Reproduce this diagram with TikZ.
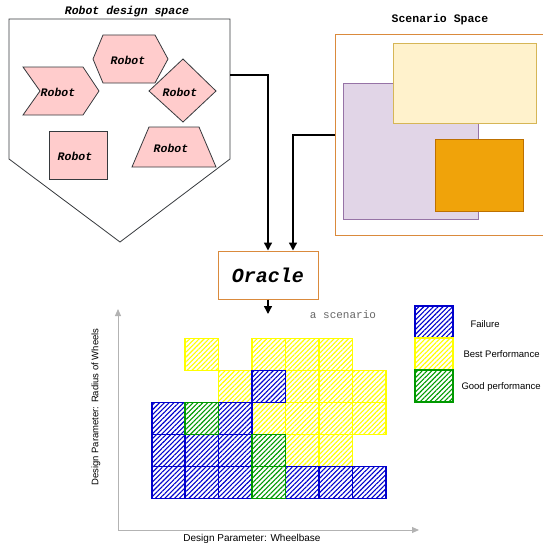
\documentclass[tikz,border=0pt]{standalone}
\usepackage{fontspec}
\setmainfont{Liberation Sans}
\newfontfamily\monofam{Liberation Mono}
\usetikzlibrary{arrows.meta,patterns.meta}

\definecolor{pinkfill}{HTML}{FFCCCC}
\definecolor{darkline}{HTML}{36393D}
\definecolor{orangeline}{HTML}{DA8A3C}
\definecolor{purplefill}{HTML}{E1D5E7}
\definecolor{purpleline}{HTML}{9673A6}
\definecolor{creamfill}{HTML}{FFF2CC}
\definecolor{creamline}{HTML}{D6B656}
\definecolor{amberfill}{HTML}{F0A30A}
\definecolor{amberline}{HTML}{BD7000}
\definecolor{failblue}{HTML}{0000CC}
\definecolor{bestyellow}{HTML}{FFFF00}
\definecolor{goodgreen}{HTML}{009900}
\definecolor{axisgray}{HTML}{B3B3B3}
\definecolor{labelgray}{HTML}{666666}

\tikzset{
  robotshape/.style={fill=pinkfill, draw=darkline, line width=0.8pt},
  robotlabel/.style={font=\monofam\bfseries\itshape\fontsize{11.5}{13}\selectfont},
  titlelabel/.style={font=\monofam\bfseries\fontsize{11.5}{13}\selectfont},
  flow/.style={line width=1.4pt, -{Triangle[length=8pt,width=8pt]}},
  axisline/.style={draw=axisgray, line width=1pt, -{Triangle[length=7pt,width=6pt]}},
  sanslabel/.style={font=\fontsize{9.5}{11}\selectfont},
  cell/.style={line width=1.6pt, pattern={Lines[angle=45,distance=3.4pt,line width=1.1pt]}},
  failcell/.style={cell, draw=failblue, pattern color=failblue},
  bestcell/.style={cell, draw=bestyellow, pattern color=bestyellow},
  goodcell/.style={cell, draw=goodgreen, pattern color=goodgreen},
}

\begin{document}
\begin{tikzpicture}[x=1pt,y=-1pt]
\useasboundingbox (0,0) rectangle (543,543);

% ---- robot design space ----
\draw[darkline, line width=0.8pt, fill=white]
  (9,19) -- (230,19) -- (230,159) -- (120,242) -- (9,159) -- cycle;
\node[font=\monofam\bfseries\itshape\fontsize{11.5}{13}\selectfont] (rdstitle) at (127,12) {Robot design space};
\coordinate (rdsout) at (230,75);

% hexagon
\draw[robotshape] (93,59) -- (103,35) -- (155,35) -- (168,59) -- (155,83) -- (103,83) -- cycle;
\node[robotlabel] (r1) at (128,60) {Robot};
% chevron
\draw[robotshape] (23,67) -- (83,67) -- (99,91) -- (83,115) -- (23,115) -- (40,91) -- cycle;
\node[robotlabel] (r2) at (58,92) {Robot};
% diamond
\draw[robotshape] (183,59) -- (216,91) -- (183,122) -- (149,91) -- cycle;
\node[robotlabel] (r3) at (180,92) {Robot};
% square
\draw[robotshape] (49,131) rectangle (107,179);
\node[robotlabel] (r4) at (75,156) {Robot};
% trapezoid
\draw[robotshape] (149,127) -- (199,127) -- (216,167) -- (132,167) -- cycle;
\node[robotlabel] (r5) at (171,148) {Robot};

% ---- scenario space ----
\draw[orangeline, line width=1pt, fill=white] (335,35) rectangle (547,235);
\node[titlelabel] (sstitle) at (440,20) {Scenario Space};
\coordinate (ssin) at (335,135);
\draw[purpleline, fill=purplefill, line width=0.8pt] (343,83) rectangle (478,219);
\draw[creamline, fill=creamfill, line width=0.8pt] (393,43) rectangle (536,123);
\draw[amberline, fill=amberfill, line width=0.8pt] (435,139) rectangle (523,211);

% ---- oracle ----
\node[draw=orangeline, line width=1pt, minimum width=100pt, minimum height=48pt,
      font=\monofam\bfseries\itshape\fontsize{20}{22}\selectfont] (oracle) at (268,275) {Oracle};
\coordinate (oracleout) at (268,314);
\draw[flow] (rdsout) -| (oracle.north);
\draw[flow] (ssin) -| ([xshift=25pt]oracle.north);
\draw[flow] (oracle.south) -- (oracleout);
\node[font=\monofam\fontsize{11}{13}\selectfont, text=labelgray] (scen) at (343,315) {a scenario};

% ---- axes ----
\coordinate (origin) at (118,530);
\coordinate (ytip) at (118,309);
\coordinate (xtip) at (419,530);
\draw[axisline] (origin) -- (ytip);
\draw[axisline] (origin) -- (xtip);
\node[sanslabel, rotate=90] (ylab) at (96,407) {Design Parameter: Radius of Wheels};
\node[sanslabel, font=\fontsize{10}{12}\selectfont] (xlab) at (252,539) {Design Parameter: Wheelbase};

% ---- result grid ----
\def\gx{151.7}\def\gy{338.3}\def\cw{33.45}\def\ch{32}
\foreach \c/\r/\s in {
  1/0/bestcell, 3/0/bestcell, 4/0/bestcell, 5/0/bestcell,
  2/1/bestcell, 4/1/bestcell, 5/1/bestcell, 6/1/bestcell,
  3/2/bestcell, 4/2/bestcell, 5/2/bestcell, 6/2/bestcell,
  4/3/bestcell, 5/3/bestcell,
  3/1/failcell,
  0/2/failcell, 2/2/failcell,
  0/3/failcell, 1/3/failcell, 2/3/failcell,
  0/4/failcell, 1/4/failcell, 2/4/failcell, 4/4/failcell, 5/4/failcell, 6/4/failcell,
  1/2/goodcell, 3/3/goodcell, 3/4/goodcell}
  \draw[\s] ({\gx+\c*\cw},{\gy+\r*\ch}) rectangle ++(\cw,\ch);

% ---- legend ----
\draw[failcell] (415,306) rectangle (453,338);
\draw[bestcell] (415,338) rectangle (453,370);
\draw[goodcell] (415,370) rectangle (453,402);
\node[sanslabel, anchor=west] (lfail) at (467,324) {Failure};
\node[sanslabel, anchor=west] (lbest) at (460,354) {Best Performance};
\node[sanslabel, anchor=west] (lgood) at (458,387) {Good performance};
\end{tikzpicture}
\end{document}
